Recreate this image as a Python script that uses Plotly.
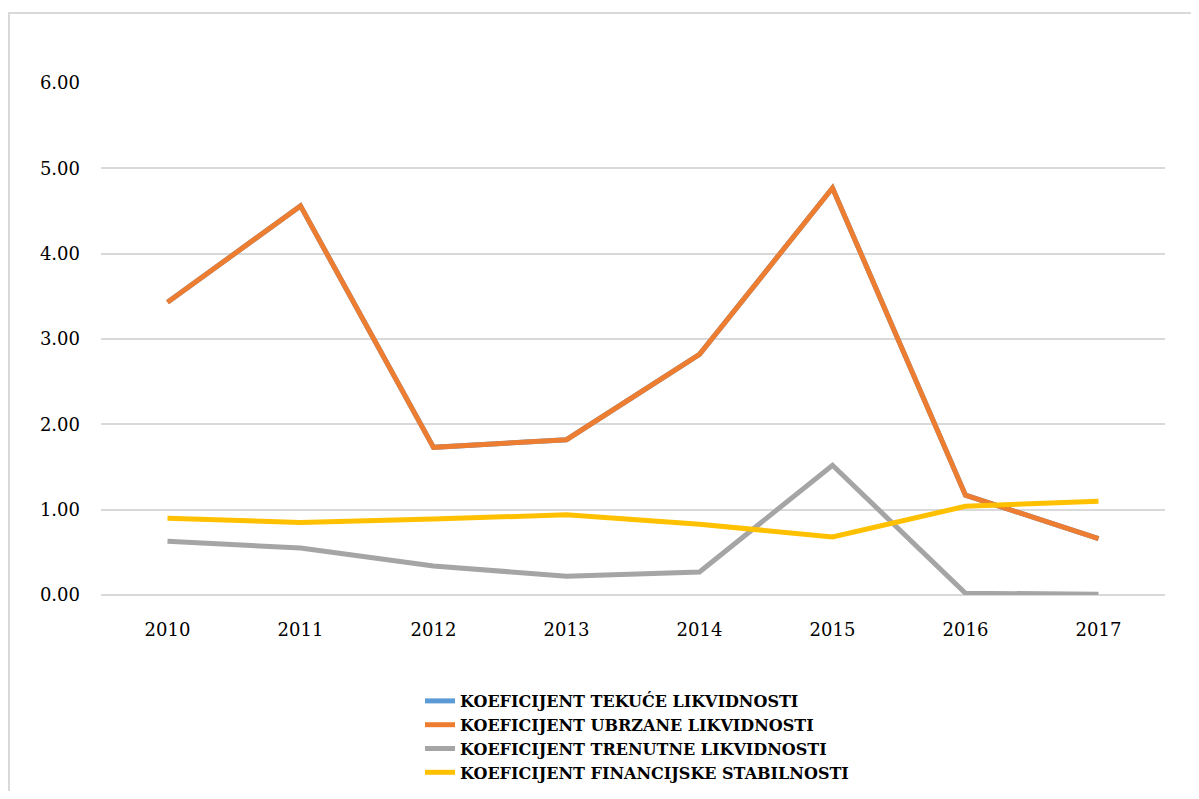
import plotly.graph_objects as go

# Data
years = ["2010", "2011", "2012", "2013", "2014", "2015", "2016", "2017"]
tekuce = [3.43, 4.56, 1.73, 1.82, 2.82, 4.77, 1.17, 0.66]
ubrzane = [3.43, 4.56, 1.73, 1.82, 2.82, 4.77, 1.17, 0.66]
trenutne = [0.63, 0.55, 0.34, 0.22, 0.27, 1.52, 0.02, 0.01]
financijske = [0.90, 0.85, 0.89, 0.94, 0.83, 0.68, 1.04, 1.10]

names = [
    "KOEFICIJENT TEKUĆE LIKVIDNOSTI",
    "KOEFICIJENT UBRZANE LIKVIDNOSTI",
    "KOEFICIJENT TRENUTNE LIKVIDNOSTI",
    "KOEFICIJENT FINANCIJSKE STABILNOSTI",
]
colors = ["#5B9BD5", "#ED7D31", "#A5A5A5", "#FFC000"]
serif = "DejaVu Serif, Liberation Serif, serif"

fig = go.Figure()
for i, (name, vals, col) in enumerate(zip(names, [tekuce, ubrzane, trenutne, financijske], colors)):
    fig.add_trace(go.Scatter(
        x=years, y=vals, mode="lines", name=name, legendgroup=f"g{i}",
        line=dict(color=col, width=5),
    ))

# page body has an 8px margin, so work in figure pixels
OFF = 8
FW, FH = 1199 - 2 * OFF, 799 - 2 * OFF
L, R, T, B = 101 - OFF, 1165 - OFF, 83 - OFF, 595 - OFF
W, H = R - L, B - T


def px(x):
    return (x - OFF - L) / W


def py(y):
    return (B - (y - OFF)) / H


# outer chart border (light gray)
fig.add_shape(type="rect", xref="paper", yref="paper",
              x0=px(9), x1=px(1230), y0=py(840), y1=py(13),
              line=dict(color="#D9D9D9", width=2), layer="below")

fig.update_layout(
    width=FW, height=FH,
    margin=dict(l=L, r=FW - R, t=T, b=FH - B),
    plot_bgcolor="white", paper_bgcolor="white",
    font=dict(family=serif, color="#000000", size=18),
    showlegend=True,
    legend=dict(
        orientation="v", x=px(637), xanchor="center",
        yref="container", y=1 - (684 - OFF) / FH, yanchor="top",
        font=dict(size=16, family=serif, weight="bold", color="#000000"),
        bgcolor="rgba(0,0,0,0)", tracegroupgap=0, borderwidth=0,
    ),
)

fig.update_xaxes(
    type="category", range=[-0.5, 7.5],
    showgrid=False, showline=False, zeroline=False,
    ticks="", ticklabelstandoff=22, tickfont=dict(size=18),
)
fig.update_yaxes(
    range=[0, 6], dtick=1, tickformat=".2f",
    showgrid=True, gridcolor="#D9D9D9", gridwidth=1.5,
    zeroline=True, zerolinecolor="#D9D9D9", zerolinewidth=1.5,
    showline=False, ticks="", ticklabelstandoff=20, tickfont=dict(size=18),
)

fig.write_html("out.html")
